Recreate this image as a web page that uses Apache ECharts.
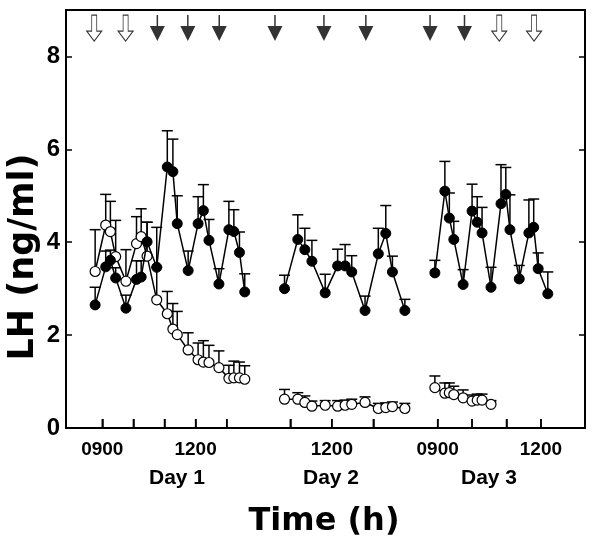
<!DOCTYPE html>
<html>
<head>
<meta charset="utf-8">
<script src="https://cdn.jsdelivr.net/npm/echarts@6/dist/echarts.min.js"></script>
<style>html,body{margin:0;padding:0;background:#fff}#c{width:600px;height:543px}</style>
</head>
<body>
<div id="c"></div>
<script>
// ---- Data (hours of day, LH ng/ml, SEM) ----
const day1Times = [8.77, 9.11, 9.26, 9.43, 9.76, 10.10, 10.25, 10.44, 10.75, 11.09, 11.27, 11.41, 11.76, 12.08, 12.25, 12.43, 12.75, 13.07, 13.23, 13.41, 13.58];
const day1Filled = [2.65, 3.47, 3.61, 3.23, 2.58, 3.20, 3.25, 4.01, 3.46, 5.62, 5.52, 4.40, 3.39, 4.40, 4.68, 4.04, 3.10, 4.27, 4.23, 3.78, 2.93];
const day1FilledErr = [0.38, 0.34, 0.22, 0.22, 0.28, 0.40, 0.35, 0.42, 0.86, 0.78, 0.70, 0.60, 0.42, 0.58, 0.56, 0.45, 0.33, 0.61, 0.47, 0.44, 0.39];
const day1Open = [3.37, 4.37, 4.23, 3.69, 3.16, 3.97, 4.12, 3.70, 2.76, 2.46, 2.13, 2.01, 1.68, 1.47, 1.42, 1.41, 1.30, 1.07, 1.08, 1.08, 1.05];
const day1OpenErr = [0.90, 0.66, 0.65, 0.78, 0.68, 0.58, 0.60, 0.73, 0.70, 0.48, 0.55, 0.50, 0.37, 0.36, 0.46, 0.37, 0.36, 0.28, 0.36, 0.34, 0.29];

const day2Times = [10.86, 11.18, 11.35, 11.52, 11.84, 12.14, 12.32, 12.48, 12.80, 13.12, 13.30, 13.46, 13.76];
const day2Filled = [3.00, 4.06, 3.84, 3.59, 2.91, 3.49, 3.49, 3.36, 2.53, 3.75, 4.19, 3.36, 2.53];
const day2FilledErr = [0.29, 0.53, 0.46, 0.45, 0.40, 0.36, 0.46, 0.35, 0.31, 0.55, 0.60, 0.34, 0.24];
const day2Open = [0.62, 0.62, 0.55, 0.47, 0.49, 0.47, 0.49, 0.51, 0.55, 0.42, 0.44, 0.46, 0.42];
const day2OpenErr = [0.21, 0.14, 0.14, 0.11, 0.10, 0.12, 0.11, 0.11, 0.12, 0.11, 0.10, 0.10, 0.11];

const day3Times = [8.92, 9.21, 9.34, 9.47, 9.74, 10.00, 10.15, 10.29, 10.55, 10.84, 10.98, 11.10, 11.37, 11.65, 11.79, 11.92, 12.20];
const day3Filled = [3.34, 5.10, 4.52, 4.06, 3.09, 4.67, 4.43, 4.20, 3.03, 4.83, 5.03, 4.27, 3.21, 4.20, 4.32, 3.43, 2.89];
const day3FilledErr = [0.27, 0.64, 0.54, 0.39, 0.32, 0.58, 0.55, 0.55, 0.43, 0.84, 0.58, 0.75, 0.29, 0.71, 0.61, 0.34, 0.47];
const day3OpenTimes = [8.92, 9.21, 9.34, 9.47, 9.74, 10.00, 10.15, 10.29, 10.55];
const day3Open = [0.87, 0.75, 0.76, 0.72, 0.65, 0.58, 0.60, 0.60, 0.51];
const day3OpenErr = [0.25, 0.22, 0.21, 0.18, 0.17, 0.13, 0.13, 0.13, 0.08];

// arrows (time of day) — open = white arrows, filled = black arrows
const day1OpenArrows = [8.74, 9.75];
const day1FilledArrows = [10.77, 11.75, 12.76];
const day2FilledArrows = [10.63, 11.81, 12.82];
const day3FilledArrows = [8.78, 9.78];
const day3OpenArrows = [10.79, 11.80];
const arrowLevel = 8.61;

// tick labels
const day1Ticks = [9, 10, 11, 12, 13];
const day1Labels = [9, 12];
const day2Ticks = [11, 12, 13];
const day2Labels = [12];
const day3Ticks = [9, 10, 11, 12];
const day3Labels = [9, 12];
const yTicks = [0, 2, 4, 6, 8];
const dayNames = ['Day 1', 'Day 2', 'Day 3'];

// ---- build ----
const zip = (xs, ys) => xs.map((x, i) => [x, ys[i]]);
const zip3 = (xs, ys, es) => xs.map((x, i) => [x, ys[i], es[i]]);
const fmtHour = v => (v < 10 ? '0' : '') + v + '00';

const OPEN_ARROW = 'path://M5,0 L10,0 L10,16 L15,16 L7.5,26 L0,16 L5,16 Z';
const FILLED_ARROW = 'path://M6.8,0 L8.2,0 L8.2,11 L14.5,11 L7.5,26 L0.5,11 L6.8,11 Z';

function xAxisDef(min, max, ticks, labels, showLine) {
  return {
    type: 'value', position: 'bottom', min: min, max: max,
    axisLine: { show: showLine, onZero: false, lineStyle: { color: '#000', width: 2 } },
    splitLine: { show: false },
    axisTick: { show: true, inside: true, length: 9, customValues: ticks, lineStyle: { color: '#000', width: 1.5 } },
    axisLabel: { customValues: labels, formatter: fmtHour, margin: 12, color: '#000',
      fontFamily: 'Liberation Sans', fontWeight: 'bold', fontSize: 19 }
  };
}

// x-axis tick marks drawn through the axis scale (one custom series per day)
function tickSeries(idx, ticks) {
  return {
    type: 'custom', xAxisIndex: idx, yAxisIndex: 0, z: 6, silent: true,
    data: ticks.map(t => [t, 0]),
    encode: { x: 0, y: 1 },
    renderItem: function (params, api) {
      const p = api.coord([api.value(0), 0]);
      return { type: 'line', shape: { x1: p[0], y1: p[1], x2: p[0], y2: p[1] - 9 }, style: { stroke: '#000', lineWidth: 1.5 } };
    }
  };
}

function errSeries(idx, data) {
  return {
    type: 'custom', xAxisIndex: idx, yAxisIndex: 0, z: 1, silent: true,
    data: data,
    encode: { x: 0, y: 1 },
    renderItem: function (params, api) {
      const x = api.value(0), m = api.value(1), e = api.value(2);
      const p0 = api.coord([x, m]);
      const p1 = api.coord([x, m + e]);
      return {
        type: 'group',
        children: [
          { type: 'line', shape: { x1: p0[0], y1: p0[1], x2: p1[0], y2: p1[1] }, style: { stroke: '#000', lineWidth: 1.5 } },
          { type: 'line', shape: { x1: p1[0] - 5.5, y1: p1[1], x2: p1[0] + 5.5, y2: p1[1] }, style: { stroke: '#000', lineWidth: 1.5 } }
        ]
      };
    }
  };
}

function lineSeries(idx, data, filled) {
  return {
    type: 'line', xAxisIndex: idx, yAxisIndex: 0, z: filled ? 4 : 3,
    data: data, symbol: 'circle', symbolSize: 10, showSymbol: true,
    lineStyle: { color: '#000', width: 1.5 },
    itemStyle: filled ? { color: '#000', borderColor: '#000', borderWidth: 1 } : { color: '#fff', borderColor: '#000', borderWidth: 1.2 },
    animation: false
  };
}

function arrowSeries(idx, times, open) {
  return {
    type: 'scatter', xAxisIndex: idx, yAxisIndex: 0, z: 5,
    data: times.map(t => [t, arrowLevel]),
    symbol: open ? OPEN_ARROW : FILLED_ARROW,
    symbolSize: [15, 26],
    itemStyle: open ? { color: '#fff', borderColor: '#000', borderWidth: 1 } : { color: '#000' },
    animation: false
  };
}

const chart = echarts.init(document.getElementById('c'), null, { renderer: 'canvas' });
const option = {
  animation: false,
  backgroundColor: '#fff',
  grid: { left: 66, right: 15, top: 10, bottom: 115, show: true, borderColor: '#000', borderWidth: 2, containLabel: false },
  xAxis: [
    xAxisDef(7.833, 24.52, day1Ticks, day1Labels, true),
    xAxisDef(5.595, 18.10, day2Ticks, day2Labels, false),
    xAxisDef(-1.794, 13.28, day3Ticks, day3Labels, false)
  ],
  yAxis: [
    {
      type: 'value', min: 0, max: 9, position: 'left',
      axisLine: { show: true, onZero: false, lineStyle: { color: '#000', width: 2 } },
      splitLine: { show: false },
      axisTick: { show: true, inside: true, length: 6, customValues: yTicks, lineStyle: { color: '#000', width: 1.5 } },
      axisLabel: { customValues: yTicks, margin: 6, color: '#000', fontFamily: 'Liberation Sans', fontWeight: 'bold', fontSize: 24 }
    },
    {
      type: 'value', min: 0, max: 9, position: 'right',
      axisLine: { show: true, onZero: false, lineStyle: { color: '#000', width: 2 } },
      splitLine: { show: false },
      axisTick: { show: true, inside: true, length: 6, customValues: yTicks, lineStyle: { color: '#000', width: 1.5 } },
      axisLabel: { show: false }
    }
  ],
  series: [
    errSeries(0, zip3(day1Times, day1Open, day1OpenErr)),
    errSeries(0, zip3(day1Times, day1Filled, day1FilledErr)),
    errSeries(1, zip3(day2Times, day2Open, day2OpenErr)),
    errSeries(1, zip3(day2Times, day2Filled, day2FilledErr)),
    errSeries(2, zip3(day3OpenTimes, day3Open, day3OpenErr)),
    errSeries(2, zip3(day3Times, day3Filled, day3FilledErr)),
    lineSeries(0, zip(day1Times, day1Open), false),
    lineSeries(0, zip(day1Times, day1Filled), true),
    lineSeries(1, zip(day2Times, day2Open), false),
    lineSeries(1, zip(day2Times, day2Filled), true),
    lineSeries(2, zip(day3OpenTimes, day3Open), false),
    lineSeries(2, zip(day3Times, day3Filled), true),
    arrowSeries(0, day1OpenArrows, true),
    arrowSeries(0, day1FilledArrows, false),
    arrowSeries(1, day2FilledArrows, false),
    arrowSeries(2, day3FilledArrows, false),
    arrowSeries(2, day3OpenArrows, true),
    tickSeries(0, day1Ticks),
    tickSeries(1, day2Ticks),
    tickSeries(2, day3Ticks)
  ],
  graphic: [
    { type: 'text', x: 177, y: 478, style: { text: dayNames[0], font: 'bold 21px "Liberation Sans"', fill: '#000', textAlign: 'center', textVerticalAlign: 'middle' } },
    { type: 'text', x: 331, y: 478, style: { text: dayNames[1], font: 'bold 21px "Liberation Sans"', fill: '#000', textAlign: 'center', textVerticalAlign: 'middle' } },
    { type: 'text', x: 489, y: 478, style: { text: dayNames[2], font: 'bold 21px "Liberation Sans"', fill: '#000', textAlign: 'center', textVerticalAlign: 'middle' } },
    { type: 'text', x: 324, y: 522, style: { text: 'Time (h)', font: 'bold 32px "DejaVu Sans"', fill: '#000', textAlign: 'center', textVerticalAlign: 'middle' } },
    { type: 'text', x: 24, y: 257, rotation: Math.PI / 2, style: { text: 'LH (ng/ml)', font: 'bold 35px "DejaVu Sans"', fill: '#000', textAlign: 'center', textVerticalAlign: 'middle' } }
  ]
};
chart.setOption(option);
</script>
</body>
</html>
